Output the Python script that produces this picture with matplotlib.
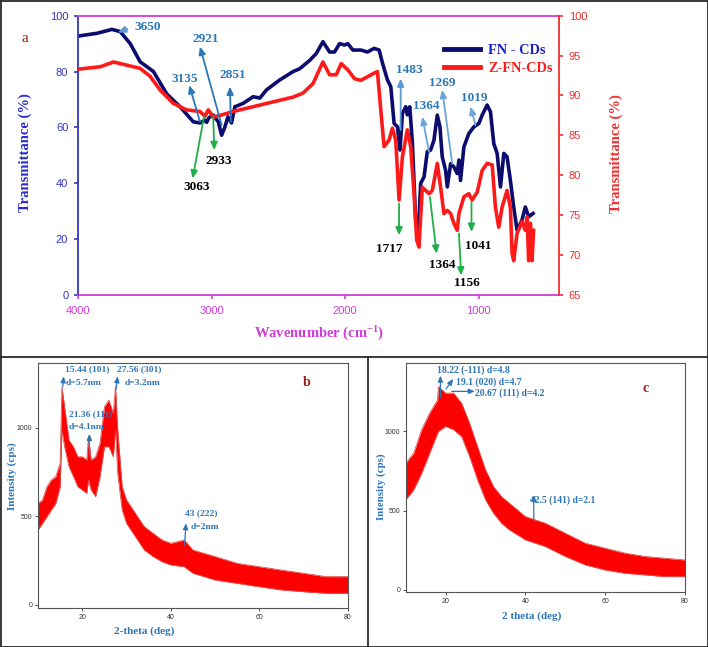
import matplotlib
matplotlib.use('Agg')
import matplotlib.pyplot as plt
from matplotlib.lines import Line2D

plt.rcParams['font.family'] = ['Liberation Serif', 'DejaVu Serif']
plt.rcParams['mathtext.fontset'] = 'custom'
plt.rcParams['mathtext.rm'] = 'Liberation Serif:bold'
plt.rcParams['mathtext.it'] = 'Liberation Serif:bold'
plt.rcParams['mathtext.bf'] = 'Liberation Serif:bold'

# ---------------- FTIR data (panel a) ----------------
fn_wn = [4000, 3858, 3746, 3684, 3609, 3535, 3435, 3336, 3236, 3137, 3087, 3050, 3037, 3020, 2988,
         2950, 2925, 2900, 2878, 2851, 2826, 2764, 2689, 2639, 2590, 2490, 2390, 2341, 2266, 2216,
         2167, 2117, 2080, 2042, 2005, 1980, 1943, 1883, 1833, 1784, 1746, 1721, 1684, 1659, 1634,
         1609, 1590, 1572, 1547, 1535, 1517, 1497, 1473, 1455, 1435, 1410, 1386, 1361, 1336, 1311,
         1291, 1274, 1249, 1236, 1211, 1187, 1162, 1149, 1137, 1112, 1075, 1037, 1000, 975, 938,
         913, 888, 863, 838, 813, 789, 764, 739, 714, 677, 652, 627, 594]
fn_T = [92.7, 93.7, 95.1, 94.3, 90, 83.5, 80, 72, 67.4, 62, 61.6, 62.6, 61.8, 63.5, 64.4,
        62, 57.2, 60.2, 63.8, 61.6, 67.4, 68.6, 71, 70.5, 73.4, 77, 80, 81, 84, 86.5,
        90.7, 87, 87, 90, 89.5, 90, 87.7, 87.7, 87, 88.3, 87.7, 83, 77, 74.6, 61.4,
        60.2, 51.9, 65, 67.4, 64.5, 67.4, 54.2, 26.8, 19.6, 40, 42.3, 51.3, 51.9, 55.4, 64.4,
        60.2, 49.5, 44.7, 38.7, 47, 45.9, 43.5, 48.3, 41, 53, 57.8, 60.2, 61.4, 64.4, 68,
        65.6, 54.2, 50.7, 38.7, 50.7, 49.5, 41.1, 31.5, 23.2, 26.8, 31.5, 28, 29.2]

zfn_wn = [4000, 3833, 3734, 3634, 3535, 3460, 3386, 3286, 3187, 3087, 3050, 3025, 2988, 2938, 2838,
          2689, 2540, 2390, 2316, 2241, 2167, 2117, 2067, 2030, 1980, 1930, 1883, 1784, 1759, 1734,
          1709, 1672, 1647, 1622, 1597, 1572, 1535, 1510, 1485, 1465, 1448, 1423, 1398, 1373, 1348,
          1311, 1286, 1261, 1236, 1211, 1187, 1162, 1149, 1112, 1075, 1050, 1012, 975, 938, 900,
          876, 851, 826, 789, 764, 751, 739, 714, 677, 652, 639, 627, 614, 602, 590]
zfn_T = [93.3, 93.6, 94.2, 93.8, 93.4, 92.4, 90.7, 89, 88.2, 88, 87.4, 88.2, 87.3, 87.5, 88,
         88.6, 89.2, 89.8, 90.3, 91.5, 94.2, 92.6, 92.6, 94, 93.2, 92.1, 91.9, 92.8, 93.0, 88.2,
         83.6, 84.4, 85.9, 84.4, 76.9, 82.3, 85.7, 83.6, 77.7, 71.9, 71, 78.5, 78.1, 77.7, 78.1,
         81.5, 78.5, 75.2, 75.6, 75.2, 74, 73.1, 75.2, 77.3, 77.7, 76.9, 77.9, 80.6, 81.5, 81.3,
         76, 73.5, 76, 78.1, 76, 70.2, 69.3, 72.7, 74.2, 73.1, 74.8, 69.3, 74, 69.3, 73.1]

series_names = ['FN - CDs', 'Z-FN-CDs']
wn_ticks = [4000, 3000, 2000, 1000]
left_ticks = [0, 20, 40, 60, 80, 100]
right_ticks = [65, 70, 75, 80, 85, 90, 95, 100]

# ---------------- XRD data (panels b, c): noisy band envelopes ----------------
b_deg = [10, 11, 12, 13, 14, 15, 15.4, 16, 17, 18, 19, 20, 21, 21.4, 22, 23, 24, 25, 26, 27,
         27.5, 28, 29, 30, 32, 34, 36, 38, 40, 43, 45, 50, 55, 60, 65, 70, 75, 80]
b_upper = [573, 592, 667, 705, 724, 799, 1231, 1118, 930, 893, 836, 836, 818, 949, 818, 836, 912, 1118, 1156, 1081,
           1231, 987, 667, 592, 517, 442, 404, 367, 348, 367, 310, 273, 235, 216, 197, 179, 160, 160]
b_lower = [423, 460, 498, 536, 573, 667, 987, 893, 780, 724, 667, 649, 630, 705, 649, 611, 724, 893, 893, 836,
           987, 742, 536, 460, 385, 310, 273, 244, 226, 216, 179, 141, 122, 103, 85, 75, 66, 66]

c_deg = [10, 12, 14, 16, 18, 18.2, 20, 22, 24, 26, 28, 30, 32, 34, 36, 40, 42.5, 45, 50, 55, 60, 65, 70, 75, 80]
c_upper = [800, 863, 1011, 1116, 1200, 1284, 1242, 1242, 1179, 1053, 905, 758, 653, 589, 547, 463, 442, 421,
           358, 295, 263, 232, 211, 200, 189]
c_lower = [568, 632, 737, 863, 989, 1000, 1032, 1011, 968, 842, 695, 568, 484, 421, 379, 316, 295, 274,
           211, 158, 126, 105, 95, 84, 84]

xrd_xticks = [20, 40, 60, 80]
xrd_yticks = [0, 500, 1000]

# ---------------- figure ----------------
W, H = 708, 647
fig = plt.figure(figsize=(W / 100, H / 100), dpi=100)
fig.patch.set_facecolor('white')


def rect(l, t, r, b):
    return [l / W, 1 - b / H, (r - l) / W, (b - t) / H]


NAVY = '#0c0c6e'
RED = '#ff1a1a'
BLUE_AX = '#3535c8'
MAG = '#d03cd8'
RED_AX = '#ee3030'
LBLUE = '#2a78b8'
GREEN = '#1fae4a'

ax = fig.add_axes(rect(78, 15.7, 559, 295))
ax2 = ax.twinx()
l1, = ax.plot(fn_wn, fn_T, color=NAVY, lw=2.6, solid_joinstyle='round')
l2, = ax2.plot(zfn_wn, zfn_T, color=RED, lw=2.6, solid_joinstyle='round')
ax.set_xlim(4000, 400)
ax.set_ylim(0, 100)
ax2.set_ylim(65, 100)
ax.set_xticks(wn_ticks)
ax.set_yticks(left_ticks)
ax2.set_yticks(right_ticks)
sans = 'Liberation Sans'
for t in ax.get_xticklabels():
    t.set_fontfamily(sans)
for t in ax.get_yticklabels():
    t.set_fontfamily(sans)
for t in ax2.get_yticklabels():
    t.set_fontfamily(sans)
ax.tick_params(axis='x', colors=MAG, labelsize=8, direction='out', length=3, width=1.2, pad=5)
ax.tick_params(axis='y', colors=BLUE_AX, labelsize=8, direction='out', length=3, width=1.2, pad=4)
ax2.tick_params(axis='y', colors=RED_AX, labelsize=8, direction='out', length=3, width=1.2, pad=4)
ax.spines['left'].set_color(BLUE_AX)
ax.spines['bottom'].set_color(MAG)
ax.spines['top'].set_color(MAG)
ax.spines['right'].set_visible(False)
for s in ['left', 'top', 'bottom']:
    ax2.spines[s].set_visible(False)
ax2.spines['right'].set_color(RED_AX)
for s in ax.spines.values():
    s.set_linewidth(1.3)
ax2.spines['right'].set_linewidth(1.3)

leg = ax2.legend([l1, l2], series_names, loc='upper left', bbox_to_anchor=(0.735, 0.945),
                 frameon=False, handlelength=2.5, handletextpad=0.55, labelspacing=0.35,
                 prop={'family': 'Liberation Serif', 'weight': 'bold', 'size': 10.3})
for txt, c in zip(leg.get_texts(), ['#1c1cc8', RED]):
    txt.set_color(c)
for h in leg.legend_handles:
    h.set_linewidth(3.5)

fig.text(25 / W, 1 - 153 / H, 'Transmittance (%)', rotation=90, ha='center', va='center',
         color='#2a2ad0', fontsize=10.5, fontweight='bold')
fig.text(616 / W, 1 - 154 / H, 'Transmittance (%)', rotation=90, ha='center', va='center',
         color=RED_AX, fontsize=10.5, fontweight='bold')
fig.text(319 / W, 1 - 334 / H, 'Wavenumber (cm$^{-1}$)', ha='center', va='center',
         color=MAG, fontsize=10.5, fontweight='bold')
fig.text(25 / W, 1 - 38 / H, 'a', ha='center', va='center', color='#a01818', fontsize=11)

T = ax.transData


def ann(text, xytext, tcolor, size=9.5):
    ax2.annotate(text, xy=xytext, xycoords=T, ha='center', va='center', color=tcolor,
                 fontsize=size, fontweight='bold', zorder=10)


def arrow(tail, head, color):
    ax2.annotate('', xy=head, xycoords=T, xytext=tail, textcoords=T,
                 arrowprops=dict(arrowstyle='-|>,head_length=0.45,head_width=0.2', color=color, lw=1.3,
                                 shrinkA=0, shrinkB=0), zorder=9)


# FN-CDs (blue) labels
ann('3650', (3480, 95.8), LBLUE)
arrow((3630, 95.3), (3700, 94.0), '#5a9ad0')
ann('2921', (3045, 91.5), LBLUE)
arrow((2925, 60.8), (3087, 88.9), LBLUE)
ann('3135', (3204, 77.5), LBLUE)
arrow((3087, 62), (3167, 75.1), LBLUE)
ann('2851', (2838, 78.7), LBLUE)
arrow((2856, 62), (2863, 74.6), LBLUE)
ann('1483', (1517, 80.5), LBLUE)
arrow((1585, 59), (1585, 77.5), '#5a9ad0')
ann('1364', (1390, 67.6), LBLUE)
arrow((1373, 51.3), (1423, 63.8), '#6aa4d8')
ann('1269', (1274, 76.0), LBLUE)
arrow((1199, 47), (1274, 73.4), '#6aa4d8')
ann('1019', (1037, 70.6), LBLUE)
arrow((1025, 60.8), (1062, 67.4), '#6aa4d8')

# Z-FN-CDs (black) labels with green arrows
ann('2933', (2950, 48), 'black')
arrow((2988, 63.8), (2980, 51.9), GREEN)
ann('3063', (3112, 38.7), 'black')
arrow((3057, 63.8), (3142, 41.7), GREEN)
ann('1717', (1672, 16.6), 'black')
arrow((1597, 32.7), (1597, 21.4), GREEN)
ann('1364', (1274, 10.6), 'black')
arrow((1366, 35.1), (1316, 14.8), GREEN)
ann('1156', (1092, 4.3), 'black')
arrow((1149, 22), (1132, 7), GREEN)
ann('1041', (1007, 17.4), 'black')
arrow((1055, 33.3), (1055, 22.6), GREEN)

# ---------------- XRD panels ----------------
XBLUE = '#2e75b6'


def xrd_axes(r, ylim):
    a = fig.add_axes(r)
    a.set_xlim(10, 80)
    a.set_ylim(*ylim)
    a.set_xticks(xrd_xticks)
    a.set_yticks(xrd_yticks)
    a.tick_params(labelsize=5, length=2, width=0.6, colors='#333333', pad=2)
    for t in a.get_xticklabels() + a.get_yticklabels():
        t.set_fontfamily(sans)
    for s in a.spines.values():
        s.set_color('#555555')
        s.set_linewidth(0.8)
    return a


axb = xrd_axes(rect(38, 362.7, 348, 608), (-17, 1367))
axb.fill_between(b_deg, b_lower, b_upper, color='#ff0000', lw=0)
axb.plot(b_deg, b_upper, color='#e05050', lw=0.6)
axb.plot(b_deg, b_lower, color='#e05050', lw=0.6)

axc = xrd_axes(rect(405.7, 363.3, 685, 592.3), (-15, 1430))
axc.fill_between(c_deg, c_lower, c_upper, color='#ff0000', lw=0)
axc.plot(c_deg, c_upper, color='#e05050', lw=0.6)
axc.plot(c_deg, c_lower, color='#e05050', lw=0.6)


def xarrow(a, tail, head):
    a.annotate('', xy=head, xytext=tail,
               arrowprops=dict(arrowstyle='-|>,head_length=0.35,head_width=0.15', color=XBLUE, lw=0.9,
                               shrinkA=0, shrinkB=0))


def xtext(a, x, y, s, size=6.8):
    a.text(x, y, s, color=XBLUE, fontsize=size, fontweight='bold', ha='left', va='center')


xtext(axb, 16.0, 1331, '15.44 (101)')
xtext(axb, 16.2, 1254, 'd=5.7nm')
xarrow(axb, (15.6, 1231), (15.8, 1290))
xtext(axb, 27.9, 1331, '27.56 (301)')
xtext(axb, 29.5, 1254, 'd=3.2nm')
xarrow(axb, (27.6, 1215), (28.0, 1290))
xtext(axb, 17.0, 1077, '21.36 (111)')
xtext(axb, 17.0, 1002, 'd=4.1nm')
xarrow(axb, (21.6, 846), (21.6, 965))
xtext(axb, 43.3, 517, '43 (222)')
xtext(axb, 44.4, 442, 'd=2nm')
xarrow(axb, (43.1, 338), (43.4, 461))
axb.text(70.7, 1254, 'b', color='#a01818', fontsize=10, fontweight='bold', ha='center', va='center')

xtext(axc, 17.9, 1385, '18.22 (-111) d=4.8', 7)
xarrow(axc, (18.7, 1211), (18.7, 1352))
xtext(axc, 22.6, 1312, '19.1 (020) d=4.7', 7)
xarrow(axc, (20.1, 1268), (21.9, 1331))
xtext(axc, 27.3, 1243, '20.67 (111) d=4.2', 7)
xarrow(axc, (21.5, 1253), (27.3, 1253))
xtext(axc, 41.1, 564, '42.5 (141) d=2.1', 7)
xarrow(axc, (42.1, 442), (42.1, 600))
axc.text(70, 1268, 'c', color='#a01818', fontsize=10, fontweight='bold', ha='center', va='center')

fig.text(12 / W, 1 - 476 / H, 'Intensity (cps)', rotation=90, ha='center', va='center',
         color=XBLUE, fontsize=8, fontweight='bold')
fig.text(144 / W, 1 - 631 / H, '2-theta (deg)', ha='center', va='center',
         color=XBLUE, fontsize=8, fontweight='bold')
fig.text(381 / W, 1 - 487 / H, 'Intensity (cps)', rotation=90, ha='center', va='center',
         color=XBLUE, fontsize=7.8, fontweight='bold')
fig.text(532 / W, 1 - 616 / H, '2 theta (deg)', ha='center', va='center',
         color=XBLUE, fontsize=8, fontweight='bold')

# ---------------- frame lines ----------------
BC = '#2a2a2a'
for (x0, y0, x1, y1) in [(0.5, 0.5, 707.5, 0.5), (0.5, 646.5, 707.5, 646.5), (0.5, 0.5, 0.5, 646.5),
                         (707.5, 0.5, 707.5, 646.5), (0, 357, 708, 357), (368, 357, 368, 647)]:
    fig.add_artist(Line2D([x0 / W, x1 / W], [1 - y0 / H, 1 - y1 / H], color=BC, lw=1.3,
                          transform=fig.transFigure))

fig.savefig('out.png', dpi=100)
